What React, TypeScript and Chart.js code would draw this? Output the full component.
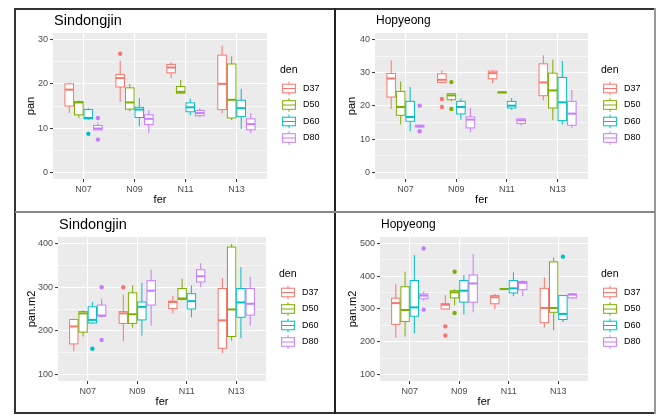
import React, { useEffect, useRef } from 'react';
import { Chart, registerables } from 'chart.js';
Chart.register(...registerables);

// ---------- data ----------
const categories = ['N07', 'N09', 'N11', 'N13'];
const seriesNames = ['D37', 'D50', 'D60', 'D80'];
const seriesColors = ['#F8766D', '#7CAE00', '#00BFC4', '#C77CFF'];

// tick labels (major breaks) of each y axis
const sdjPanTicks = [0, 10, 20, 30];
const hopPanTicks = [0, 10, 20, 30, 40];
const sdjM2Ticks = [100, 200, 300, 400];
const hopM2Ticks = [100, 200, 300, 400, 500];

// box statistics per category: [lower whisker, Q1, median, Q3, upper whisker]
// Sindongjin - pan
const sdjPanD37 = [[13.4, 15.0, 18.7, 20.0, 20.2], [15.9, 19.3, 21.3, 22.1, 25.2], [21.3, 22.5, 23.7, 24.4, 24.9], [13.4, 14.2, 20.0, 26.5, 28.7]];
const sdjPanD50 = [[12.3, 13.0, 15.8, 16.0, 16.2], [13.8, 14.3, 15.8, 19.1, 20.0], [17.8, 17.9, 18.2, 19.4, 20.9], [11.8, 12.3, 16.4, 24.5, 26.2]];
const sdjPanD60 = [[11.9, 12.1, 12.3, 14.2, 14.5], [10.4, 12.4, 14.2, 14.7, 16.8], [12.9, 13.7, 14.7, 15.7, 16.7], [9.8, 12.6, 14.5, 16.3, 18.9]];
const sdjPanD80 = [[9.5, 9.6, 9.9, 10.6, 11.2], [8.8, 10.8, 12.1, 13.0, 14.0], [12.5, 12.8, 13.4, 14.0, 14.5], [8.8, 9.6, 10.9, 12.1, 13.4]];
const sdjPanOutD37 = [[], [26.8], [], []];
const sdjPanOutD50 = [[], [], [], []];
const sdjPanOutD60 = [[8.7], [], [], []];
const sdjPanOutD80 = [[12.3, 7.4], [], [], []];

// Hopyeong - pan
const hopPanD37 = [[19.1, 22.7, 28.3, 29.8, 33.7], [27.1, 27.1, 27.9, 29.7, 30.7], [26.9, 28.2, 29.9, 30.5, 30.8], [21.7, 23.1, 27.1, 32.7, 35.3]];
const hopPanD50 = [[14.4, 17.2, 19.7, 24.4, 27.4], [21.4, 21.9, 23.2, 23.7, 23.9], [23.9, 24.0, 24.1, 24.2, 24.3], [15.7, 19.4, 24.7, 29.9, 34.0]];
const hopPanD60 = [[12.4, 15.4, 16.7, 21.4, 25.7], [15.9, 17.6, 19.7, 21.4, 22.2], [18.9, 19.4, 20.1, 21.4, 22.4], [14.4, 15.6, 21.1, 28.6, 33.6]];
const hopPanD80 = [[13.4, 13.7, 13.9, 14.2, 14.4], [12.1, 13.4, 15.9, 16.7, 19.4], [14.1, 14.7, 15.7, 16.1, 16.4], [13.4, 14.2, 17.7, 21.4, 24.9]];
const hopPanOutD37 = [[], [22.1, 19.7], [], []];
const hopPanOutD50 = [[], [27.2, 19.1], [], []];
const hopPanOutD60 = [[], [], [], []];
const hopPanOutD80 = [[20.1, 12.4], [], [], []];

// Sindongjin - pan.m2
const sdjM2D37 = [[153, 170, 210, 226, 228], [176, 217, 240, 244, 283], [240, 251, 266, 268, 280], [149, 160, 224, 297, 321]];
const sdjM2D50 = [[187, 197, 240, 244, 247], [207, 217, 238, 287, 304], [270, 272, 274, 297, 319], [177, 187, 249, 392, 399]];
const sdjM2D60 = [[216, 218, 225, 255, 266], [189, 225, 255, 266, 310], [231, 250, 268, 285, 304], [183, 231, 265, 297, 346]];
const sdjM2D80 = [[230, 234, 235, 259, 274], [212, 259, 292, 315, 340], [300, 312, 325, 340, 355], [212, 236, 262, 297, 324]];
const sdjM2OutD37 = [[], [300], [], []];
const sdjM2OutD50 = [[], [], [], []];
const sdjM2OutD60 = [[159], [], [], []];
const sdjM2OutD80 = [[300, 179], [], [], []];

// Hopyeong - pan.m2
const hopM2D37 = [[212, 253, 318, 333, 376], [300, 300, 313, 316, 343], [300, 316, 336, 341, 346], [243, 258, 303, 363, 397]];
const hopM2D50 = [[216, 262, 297, 368, 414], [311, 334, 351, 356, 361], [361, 361, 361, 362, 362], [235, 290, 303, 444, 457]];
const hopM2D60 = [[225, 278, 305, 387, 465], [283, 321, 356, 387, 404], [339, 349, 363, 387, 412], [260, 268, 285, 341, 341]];
const hopM2D80 = [[326, 331, 341, 346, 353], [290, 321, 378, 404, 468], [339, 359, 380, 384, 387], [331, 334, 344, 346, 349]];
const hopM2OutD37 = [[], [247, 219], [], []];
const hopM2OutD50 = [[], [414, 288], [], []];
const hopM2OutD60 = [[], [], [], [460]];
const hopM2OutD80 = [[485, 298], [], [], []];

// ---------- layout / style ----------
const FONT = "'Liberation Sans', Arial, sans-serif";
const DODGE = 0.1875;
const BOXW = DODGE * 0.9;
const PANEL_BG = '#EBEBEB';

type PanelCfg = {
  title: string; titleSize: number; yTitle: string; ticks: number[];
  stats: number[][][]; outliers: number[][][];
  box: { x: number; y: number; w: number; h: number };
  pad: { left: number; right: number; top: number; bottom: number };
  yTitlePad: number; xTitlePad: number;
};

const panels: PanelCfg[] = [
  {
    title: 'Sindongjin', titleSize: 14.5, yTitle: 'pan', ticks: sdjPanTicks,
    stats: [sdjPanD37, sdjPanD50, sdjPanD60, sdjPanD80],
    outliers: [sdjPanOutD37, sdjPanOutD50, sdjPanOutD60, sdjPanOutD80],
    box: { x: 15, y: 9, w: 320, h: 203 }, pad: { left: 38, right: 68, top: 24, bottom: 33 },
    yTitlePad: 9.4, xTitlePad: 5.4,
  },
  {
    title: 'Hopyeong', titleSize: 12, yTitle: 'pan', ticks: hopPanTicks,
    stats: [hopPanD37, hopPanD50, hopPanD60, hopPanD80],
    outliers: [hopPanOutD37, hopPanOutD50, hopPanOutD60, hopPanOutD80],
    box: { x: 335, y: 9, w: 320, h: 203 }, pad: { left: 40, right: 67, top: 24, bottom: 33 },
    yTitlePad: 10, xTitlePad: 5.4,
  },
  {
    title: 'Sindongjin', titleSize: 14.5, yTitle: 'pan.m2', ticks: sdjM2Ticks,
    stats: [sdjM2D37, sdjM2D50, sdjM2D60, sdjM2D80],
    outliers: [sdjM2OutD37, sdjM2OutD50, sdjM2OutD60, sdjM2OutD80],
    box: { x: 15, y: 212, w: 320, h: 201 }, pad: { left: 43, right: 69, top: 25, bottom: 32 },
    yTitlePad: 10, xTitlePad: 4.7,
  },
  {
    title: 'Hopyeong', titleSize: 12, yTitle: 'pan.m2', ticks: hopM2Ticks,
    stats: [hopM2D37, hopM2D50, hopM2D60, hopM2D80],
    outliers: [hopM2OutD37, hopM2OutD50, hopM2OutD60, hopM2OutD80],
    box: { x: 335, y: 212, w: 320, h: 201 }, pad: { left: 45, right: 67, top: 25, bottom: 32 },
    yTitlePad: 11, xTitlePad: 4.7,
  },
];

function makePlugin(p: PanelCfg) {
  return {
    id: 'ggbox',
    beforeDraw(chart: any) {
      const { ctx, chartArea: a } = chart;
      ctx.save();
      ctx.fillStyle = PANEL_BG;
      ctx.fillRect(a.left, a.top, a.right - a.left, a.bottom - a.top);
      ctx.restore();
    },
    beforeDatasetsDraw(chart: any) {
      const { ctx, chartArea: a } = chart;
      const xs = chart.scales.x, ys = chart.scales.y;
      ctx.save();
      ctx.beginPath();
      ctx.rect(a.left, a.top, a.right - a.left, a.bottom - a.top);
      ctx.clip();
      p.stats.forEach((series, s) => {
        const color = seriesColors[s];
        series.forEach((st, c) => {
          const [mn, q1, md, q3, mx] = st;
          const xc = c + 1 + (s - 1.5) * DODGE;
          const xl = xs.getPixelForValue(xc - BOXW / 2);
          const xr = xs.getPixelForValue(xc + BOXW / 2);
          const xm = xs.getPixelForValue(xc);
          const y = (v: number) => ys.getPixelForValue(v);
          ctx.strokeStyle = color;
          ctx.lineWidth = 1;
          ctx.beginPath();
          ctx.moveTo(xm, y(q3)); ctx.lineTo(xm, y(mx));
          ctx.moveTo(xm, y(q1)); ctx.lineTo(xm, y(mn));
          ctx.stroke();
          ctx.fillStyle = '#FFFFFF';
          ctx.fillRect(xl, y(q3), xr - xl, y(q1) - y(q3));
          ctx.strokeRect(xl, y(q3), xr - xl, y(q1) - y(q3));
          ctx.lineWidth = 2;
          ctx.beginPath();
          ctx.moveTo(xl, y(md)); ctx.lineTo(xr, y(md));
          ctx.stroke();
        });
      });
      ctx.restore();
    },
    afterDraw(chart: any) {
      const { ctx, chartArea: a } = chart;
      ctx.save();
      // title
      ctx.fillStyle = '#000000';
      ctx.textBaseline = 'middle';
      ctx.textAlign = 'left';
      ctx.font = `${p.titleSize}px ${FONT}`;
      ctx.fillText(p.title, a.left + 1, a.top - 12.5);
      // legend
      ctx.font = `10.5px ${FONT}`;
      ctx.fillText('den', a.right + 13, a.top + 37.5);
      seriesNames.forEach((name, i) => {
        const cx = a.right + 22;
        const cy = a.top + 55.5 + i * 16.5;
        ctx.strokeStyle = seriesColors[i];
        ctx.lineWidth = 1;
        ctx.beginPath();
        ctx.moveTo(cx, cy - 6.8); ctx.lineTo(cx, cy + 6.8);
        ctx.stroke();
        ctx.fillStyle = '#FFFFFF';
        ctx.fillRect(cx - 6.4, cy - 4.3, 12.8, 8.6);
        ctx.strokeRect(cx - 6.4, cy - 4.3, 12.8, 8.6);
        ctx.beginPath();
        ctx.moveTo(cx - 6.4, cy); ctx.lineTo(cx + 6.4, cy);
        ctx.stroke();
        ctx.fillStyle = '#000000';
        ctx.font = `9px ${FONT}`;
        ctx.fillText(name, a.right + 36, cy);
      });
      ctx.restore();
    },
  };
}

function buildConfig(p: PanelCfg): any {
  const majors = p.ticks;
  const minors = majors.slice(1).map((v, i) => (v + majors[i]) / 2);
  const allTicks = [...majors, ...minors].sort((a, b) => a - b);
  const span = majors[majors.length - 1] - majors[0];
  const yMin = majors[0] - 0.05 * span;
  const yMax = majors[majors.length - 1] + 0.05 * span;
  const isMajor = (v: number) => majors.some((m) => Math.abs(m - v) < 1e-9);

  const datasets = seriesNames.map((name, s) => ({
    label: name,
    data: p.outliers[s].flatMap((vals, c) => vals.map((v) => ({ x: c + 1 + (s - 1.5) * DODGE, y: v }))),
    backgroundColor: seriesColors[s],
    borderWidth: 0,
    pointRadius: 2.2,
    pointHoverRadius: 2.2,
  }));

  return {
    type: 'scatter',
    data: { datasets },
    options: {
      animation: false,
      responsive: false,
      devicePixelRatio: 1,
      events: [],
      layout: { padding: { left: 0, top: p.pad.top, right: p.pad.right, bottom: 0 } },
      plugins: { legend: { display: false }, tooltip: { enabled: false }, title: { display: false } },
      scales: {
        x: {
          type: 'linear',
          min: 0.4,
          max: 4.6,
          afterBuildTicks: (axis: any) => { axis.ticks = categories.map((_, i) => ({ value: i + 1 })); },
          afterFit: (axis: any) => { axis.height = p.pad.bottom; },
          ticks: {
            autoSkip: false, maxRotation: 0, minRotation: 0, padding: 2,
            color: '#4D4D4D', font: { family: FONT, size: 9 },
            callback: (v: any) => categories[Math.round(Number(v)) - 1] ?? '',
          },
          grid: { color: '#FFFFFF', lineWidth: 1.1, drawTicks: true, tickLength: 3, tickColor: '#333333', tickWidth: 1 },
          border: { display: false },
          title: { display: true, text: 'fer', color: '#000000', font: { family: FONT, size: 11 }, padding: { top: 0, bottom: p.xTitlePad } },
        },
        y: {
          type: 'linear',
          min: yMin,
          max: yMax,
          afterBuildTicks: (axis: any) => { axis.ticks = allTicks.map((v) => ({ value: v })); },
          afterFit: (axis: any) => { axis.width = p.pad.left; },
          ticks: {
            padding: 2, color: '#4D4D4D', font: { family: FONT, size: 9 },
            callback: (v: any) => (isMajor(Number(v)) ? String(v) : ''),
          },
          grid: {
            color: '#FFFFFF',
            lineWidth: (c: any) => (c.tick && isMajor(c.tick.value) ? 1.1 : 0.55),
            drawTicks: true, tickLength: 3, tickWidth: 1,
            tickColor: (c: any) => (c.tick && isMajor(c.tick.value) ? '#333333' : 'rgba(0,0,0,0)'),
          },
          border: { display: false },
          title: { display: true, text: p.yTitle, color: '#000000', font: { family: FONT, size: 11 }, padding: { top: p.yTitlePad, bottom: 0 } },
        },
      },
    },
    plugins: [makePlugin(p)],
  };
}

function Panel({ cfg }: { cfg: PanelCfg }) {
  const ref = useRef<HTMLCanvasElement>(null);
  useEffect(() => {
    if (!ref.current) return;
    const chart = new Chart(ref.current, buildConfig(cfg));
    return () => chart.destroy();
  }, [cfg]);
  const b = cfg.box;
  return (
    <canvas
      ref={ref}
      width={b.w}
      height={b.h}
      style={{ position: 'absolute', left: b.x, top: b.y, width: b.w, height: b.h }}
    />
  );
}

const line = (x: number, y: number, w: number, h: number, c: string) => (
  <div style={{ position: 'absolute', left: x, top: y, width: w, height: h, background: c }} />
);

export default function App() {
  return (
    <div style={{ position: 'fixed', left: 0, top: 0, width: 661, height: 416, background: '#FFFFFF', overflow: 'hidden' }}>
      {panels.map((p, i) => <Panel key={i} cfg={p} />)}
      {line(14, 8, 642, 2, '#333333')}
      {line(14, 412, 642, 2, '#333333')}
      {line(14, 8, 2, 406, '#333333')}
      {line(654, 8, 2, 406, '#999999')}
      {line(334, 8, 2, 406, '#222222')}
      {line(15, 211, 640, 2, '#888888')}
    </div>
  );
}
